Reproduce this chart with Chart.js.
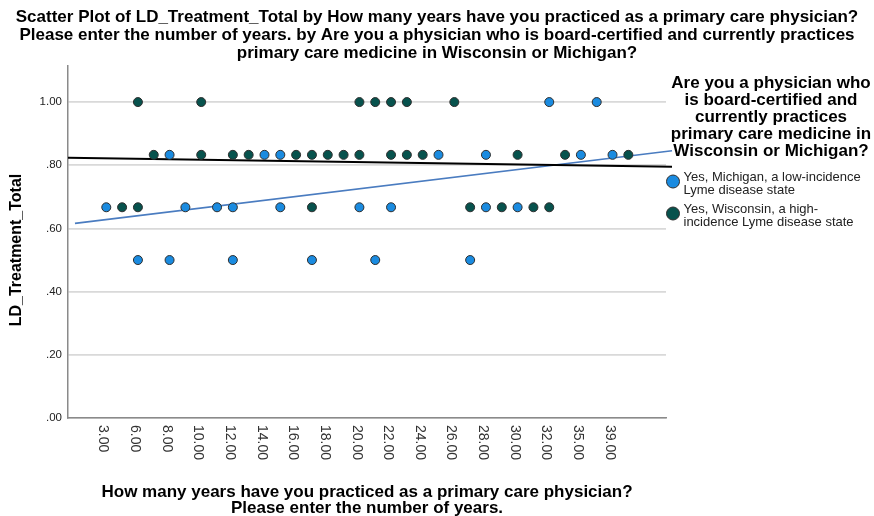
<!DOCTYPE html>
<html>
<head>
<meta charset="utf-8">
<title>LD_Treatment_Total by years in primary care</title>
<script src="https://cdn.jsdelivr.net/npm/chart.js@4.4.1/dist/chart.umd.min.js"></script>
<style>
  html, body { margin: 0; padding: 0; background: #ffffff; }
  #wrap { width: 874px; height: 516px; }
</style>
</head>
<body>
<div id="wrap"><canvas id="chart" width="874" height="516"></canvas></div>
<script>
// Years-in-practice categories in axis order; every other one carries a label
const yearCategories = [
  '3.00', '5.00', '6.00', '7.00', '8.00', '9.00', '10.00', '11.00', '12.00', '13.00',
  '14.00', '15.00', '16.00', '17.00', '18.00', '19.00', '20.00', '21.00', '22.00', '23.00',
  '24.00', '25.00', '26.00', '27.00', '28.00', '29.00', '30.00', '31.00', '32.00', '34.00',
  '35.00', '37.00', '39.00', '40.00'
];

// Michigan respondents: years practiced and LD_Treatment_Total
const michiganYears = [
  '32.00', '37.00',
  '8.00', '14.00', '15.00', '25.00', '28.00', '35.00', '39.00',
  '3.00', '9.00', '11.00', '12.00', '15.00', '20.00', '22.00', '28.00', '30.00',
  '6.00', '8.00', '12.00', '17.00', '21.00', '27.00'
];
const michiganScores = [
  1.00, 1.00,
  0.833, 0.833, 0.833, 0.833, 0.833, 0.833, 0.833,
  0.667, 0.667, 0.667, 0.667, 0.667, 0.667, 0.667, 0.667, 0.667,
  0.50, 0.50, 0.50, 0.50, 0.50, 0.50
];

// Wisconsin respondents: years practiced and LD_Treatment_Total
const wisconsinYears = [
  '6.00', '10.00', '20.00', '21.00', '22.00', '23.00', '26.00',
  '7.00', '10.00', '12.00', '13.00', '16.00', '17.00', '18.00', '19.00', '20.00',
  '22.00', '23.00', '24.00', '30.00', '34.00', '40.00',
  '5.00', '6.00', '17.00', '27.00', '29.00', '31.00', '32.00'
];
const wisconsinScores = [
  1.00, 1.00, 1.00, 1.00, 1.00, 1.00, 1.00,
  0.833, 0.833, 0.833, 0.833, 0.833, 0.833, 0.833, 0.833, 0.833,
  0.833, 0.833, 0.833, 0.833, 0.833, 0.833,
  0.667, 0.667, 0.667, 0.667, 0.667, 0.667, 0.667
];

// Linear fit lines: end points as (category position, score)
const michiganFitPos = [-1.98, 35.76];
const michiganFitVal = [0.616, 0.846];
const wisconsinFitPos = [-2.42, 35.76];
const wisconsinFitVal = [0.824, 0.795];

// Text
const chartTitleLines = [
  'Scatter Plot of LD_Treatment_Total by How many years have you practiced as a primary care physician?',
  'Please enter the number of years. by Are you a physician who is board-certified and currently practices',
  'primary care medicine in Wisconsin or Michigan?'
];
const xTitleLines = [
  'How many years have you practiced as a primary care physician?',
  'Please enter the number of years.'
];
const yTitle = 'LD_Treatment_Total';
const legendTitleLines = [
  'Are you a physician who',
  'is board-certified and',
  'currently practices',
  'primary care medicine in',
  'Wisconsin or Michigan?'
];
const michiganLegendLines = ['Yes, Michigan, a low-incidence', 'Lyme disease state'];
const wisconsinLegendLines = ['Yes, Wisconsin, a high-', 'incidence Lyme disease state'];

const FONT = '"Liberation Sans", Arial, Helvetica, sans-serif';
const MICHIGAN_COLOR = '#1a8be0';
const WISCONSIN_COLOR = '#07524d';
const DOT_EDGE = '#2e2e2e';

Chart.defaults.font.family = FONT;
Chart.defaults.color = '#222';

function toPoints(years, scores) {
  return years.map((yr, k) => ({ x: yearCategories.indexOf(yr), y: scores[k] }));
}
function toLine(pos, vals) {
  return pos.map((p, k) => ({ x: p, y: vals[k] }));
}

// Side legend reserved as its own layout box to the right of the plot
const sideLegend = {
  id: 'sideLegend',
  beforeInit(chart) {
    const box = {
      position: 'right',
      weight: 0,
      fullSize: false,
      options: {},
      left: 0, top: 0, right: 0, bottom: 0, width: 0, height: 0,
      isHorizontal() { return false; },
      getPadding() { return { top: 0, left: 0, bottom: 0, right: 0 }; },
      update(maxWidth, maxHeight) { this.width = 208; this.height = maxHeight; },
      draw() {
        const ctx = chart.ctx;
        const left = this.left;
        ctx.save();
        ctx.fillStyle = '#000';
        ctx.font = 'bold 17px ' + FONT;
        ctx.textAlign = 'center';
        ctx.textBaseline = 'middle';
        legendTitleLines.forEach((line, i) => ctx.fillText(line, left + 105, 83.5 + i * 17));

        const items = [
          { lines: michiganLegendLines, color: MICHIGAN_COLOR, y: 181.5 },
          { lines: wisconsinLegendLines, color: WISCONSIN_COLOR, y: 213.5 }
        ];
        items.forEach(item => {
          ctx.beginPath();
          ctx.arc(left + 7, item.y, 6.5, 0, Math.PI * 2);
          ctx.fillStyle = item.color;
          ctx.fill();
          ctx.lineWidth = 1;
          ctx.strokeStyle = DOT_EDGE;
          ctx.stroke();
          ctx.fillStyle = '#222';
          ctx.font = '13px ' + FONT;
          ctx.textAlign = 'left';
          item.lines.forEach((line, i) => ctx.fillText(line, left + 17.5, item.y - 4.5 + i * 13));
        });
        ctx.restore();
      }
    };
    Chart.layouts.addBox(chart, box);
  }
};

// Category labels along the bottom, turned to read top to bottom,
// and the vertical axis title beside the value labels
const axisText = {
  id: 'axisText',
  afterDraw(chart) {
    const xs = chart.scales.x;
    const ys = chart.scales.y;
    const ctx = chart.ctx;
    ctx.save();
    ctx.font = '14px ' + FONT;
    ctx.fillStyle = '#333';
    ctx.textAlign = 'left';
    ctx.textBaseline = 'middle';
    yearCategories.forEach((label, i) => {
      if (i % 2 !== 0) return;
      const x = xs.getPixelForValue(i) - 3;
      ctx.save();
      ctx.translate(x, xs.top + 7);
      ctx.rotate(Math.PI / 2);
      ctx.fillText(label, 0, 0);
      ctx.restore();
    });

    ctx.font = 'bold 16px ' + FONT;
    ctx.fillStyle = '#000';
    ctx.textAlign = 'center';
    ctx.save();
    ctx.translate(17, (ys.top + ys.bottom) / 2 + 8);
    ctx.rotate(-Math.PI / 2);
    ctx.fillText(yTitle, 0, 0);
    ctx.restore();
    ctx.restore();
  }
};

new Chart(document.getElementById('chart'), {
  type: 'scatter',
  data: {
    datasets: [
      {
        label: michiganLegendLines.join(' '),
        data: toPoints(michiganYears, michiganScores),
        backgroundColor: MICHIGAN_COLOR,
        borderColor: DOT_EDGE,
        borderWidth: 1,
        pointRadius: 4.5,
        order: 1
      },
      {
        label: wisconsinLegendLines.join(' '),
        data: toPoints(wisconsinYears, wisconsinScores),
        backgroundColor: WISCONSIN_COLOR,
        borderColor: DOT_EDGE,
        borderWidth: 1,
        pointRadius: 4.5,
        order: 0
      },
      {
        label: 'Michigan fit',
        type: 'line',
        data: toLine(michiganFitPos, michiganFitVal),
        borderColor: '#4a7cc0',
        borderWidth: 1.6,
        pointRadius: 0,
        fill: false,
        clip: false,
        order: 3
      },
      {
        label: 'Wisconsin fit',
        type: 'line',
        data: toLine(wisconsinFitPos, wisconsinFitVal),
        borderColor: '#000000',
        borderWidth: 2,
        pointRadius: 0,
        fill: false,
        clip: false,
        order: 2
      }
    ]
  },
  options: {
    responsive: false,
    animation: false,
    devicePixelRatio: 1,
    layout: { padding: 0 },
    plugins: {
      legend: { display: false },
      tooltip: { enabled: false },
      title: {
        display: true,
        text: chartTitleLines,
        color: '#000',
        font: { size: 17, weight: 'bold', lineHeight: 1.06 },
        padding: { top: 8, bottom: 4 }
      }
    },
    scales: {
      x: {
        type: 'linear',
        min: -2.42,
        max: 35.38,
        grid: { display: false },
        border: { display: true, color: '#8a8a8a', width: 1.5 },
        ticks: { display: false },
        title: {
          display: true,
          text: xTitleLines,
          color: '#000',
          font: { size: 17, weight: 'bold', lineHeight: 0.92 },
          padding: { top: 0, bottom: 0 }
        },
        afterFit(scale) { scale.height = 98; }
      },
      y: {
        type: 'linear',
        min: 0,
        max: 1.114,
        grid: { color: '#d9d9d9', lineWidth: 1.8, drawTicks: false },
        border: { display: true, color: '#8a8a8a', width: 1.5 },
        ticks: {
          stepSize: 0.2,
          includeBounds: false,
          padding: 6,
          color: '#222',
          font: { size: 11.5 },
          callback: v => v.toFixed(2).replace(/^0/, '')
        },
        title: { display: false },
        afterFit(scale) { scale.width = 68; }
      }
    }
  },
  plugins: [sideLegend, axisText]
});
</script>
</body>
</html>
